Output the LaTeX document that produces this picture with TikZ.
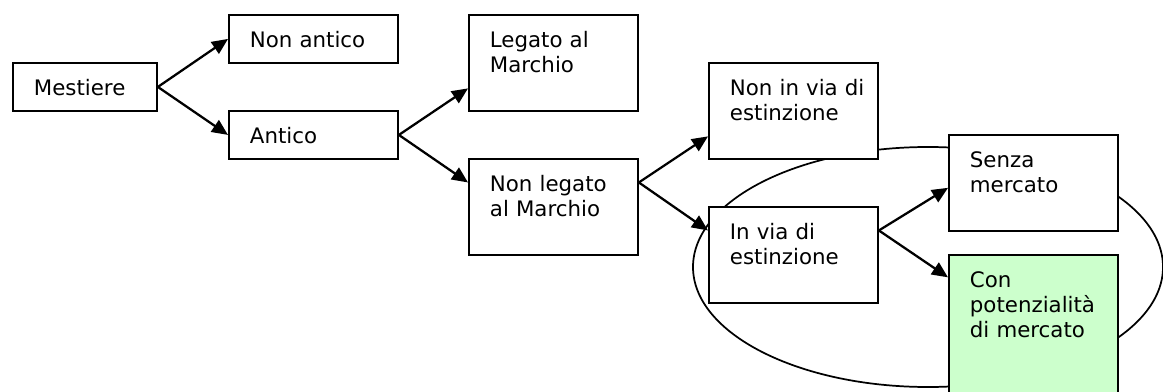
\documentclass[tikz,border=0pt]{standalone}
\usepackage{fontspec}
\setmainfont{DejaVu Sans}
\usetikzlibrary{arrows.meta, calc}
\definecolor{lightgreen}{HTML}{CCFFCC}
\tikzset{
	box/.style n args={2}{draw, line width=1.4pt, fill=white, anchor=north west,
		inner xsep=15.75pt, inner ysep=0pt, align=left,
		text width={#1*0.75pt-31.5pt}, text height=24.75pt, text depth={#2*0.75pt-24.75pt},
		font=\fontsize{16}{18.75}\selectfont},
	link/.style={line width=1.7pt, -{Triangle[length=12pt, width=10.5pt]}}
}
\begin{document}
\begin{tikzpicture}[x=0.75pt, y=-0.75pt]
	\useasboundingbox (0,0) rectangle (1163,392);
	% the ring round the last choice
	\draw[line width=1.3pt] (928,267) ellipse [x radius=235, y radius=120];
	\node[box={144}{48}] (m) at (12,62) {Mestiere};
	\node[box={169}{48}] (na) at (228,14) {Non antico};
	\node[box={169}{48}] (an) at (228,110) {Antico};
	\node[box={169}{96}] (lm) at (468,14) {Legato al\\Marchio};
	\node[box={169}{96}] (nl) at (468,158) {Non legato\\al Marchio};
	\node[box={169}{96}] (ni) at (708,62) {Non~in~via~di\\estinzione};
	\node[box={169}{96}] (iv) at (708,206) {In via di\\estinzione};
	\node[box={169}{96}] (sm) at (948,134) {Senza\\mercato};
	\node[box={169}{144}, fill=lightgreen] (cp) at (948,254) {Con\\potenzialità\\di~mercato};
	\draw[link] (m.east) -- (na.west);
	\draw[link] (m.east) -- (an.west);
	\draw[link] (an.east) -- ($(lm.north west)!0.76!(lm.south west)$);
	\draw[link] (an.east) -- ($(nl.north west)!0.25!(nl.south west)$);
	\draw[link] ($(nl.north east)!0.25!(nl.south east)$) -- ($(ni.north west)!0.76!(ni.south west)$);
	\draw[link] ($(nl.north east)!0.25!(nl.south east)$) -- ($(iv.north west)!0.25!(iv.south west)$);
	\draw[link] ($(iv.north east)!0.25!(iv.south east)$) -- ($(sm.north west)!0.55!(sm.south west)$);
	\draw[link] ($(iv.north east)!0.25!(iv.south east)$) -- ($(cp.north west)!0.16!(cp.south west)$);
\end{tikzpicture}
\end{document}
